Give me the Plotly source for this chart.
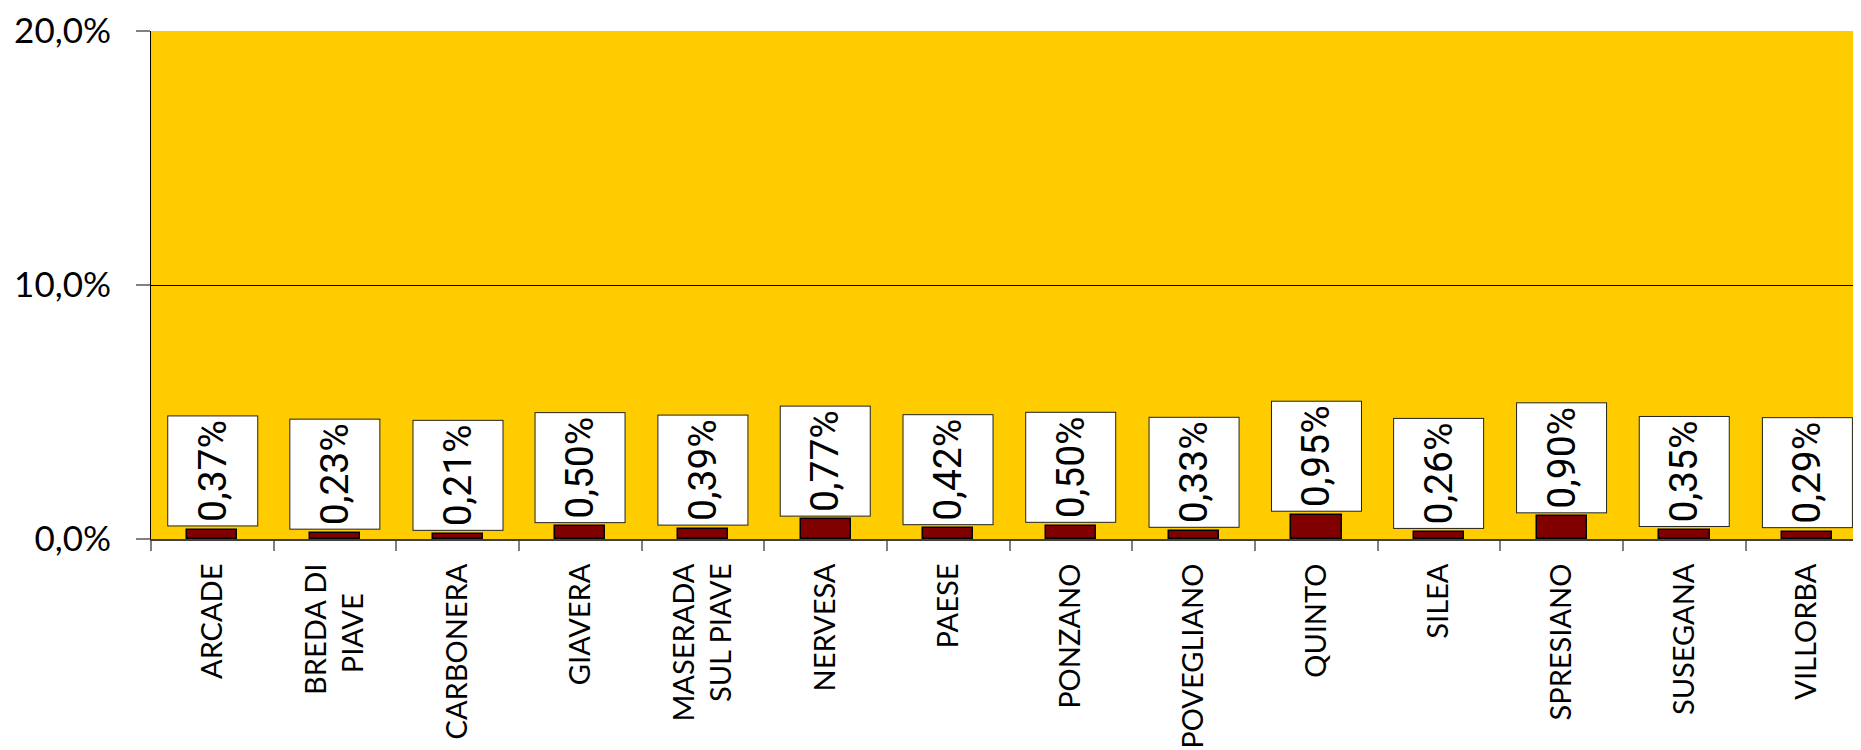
import plotly.graph_objects as go

categories = ["ARCADE", "BREDA DI PIAVE", "CARBONERA", "GIAVERA", "MASERADA SUL PIAVE",
              "NERVESA", "PAESE", "PONZANO", "POVEGLIANO", "QUINTO", "SILEA",
              "SPRESIANO", "SUSEGANA", "VILLORBA"]
tick_labels = ["ARCADE", "BREDA DI<br>PIAVE\u00a0\u00a0\u00a0\u00a0", "CARBONERA", "GIAVERA",
               "MASERADA<br>SUL PIAVE", "NERVESA", "PAESE", "PONZANO", "POVEGLIANO",
               "QUINTO", "SILEA", "SPRESIANO", "SUSEGANA", "VILLORBA"]
values = [0.37, 0.23, 0.21, 0.50, 0.39, 0.77, 0.42, 0.50, 0.33, 0.95, 0.26, 0.90, 0.35, 0.29]
y_ticks = [0, 10, 20]
y_tick_labels = ["0,0%", "10,0%", "20,0%"]

label_font = "Roboto, Liberation Sans, sans-serif"
tick_font = "Lato, Liberation Sans, sans-serif"

fig = go.Figure()
fig.add_trace(go.Bar(
    x=categories, y=values,
    width=0.41,
    marker=dict(color="#800000", line=dict(color="black", width=1.5)),
    hoverinfo="skip",
))

for c, v in zip(categories, values):
    fig.add_annotation(
        x=c, y=v, xref="x", yref="y",
        text=f"{v:.2f}".replace(".", ",") + "%",
        textangle=-90,
        showarrow=False,
        xanchor="center", yanchor="bottom",
        yshift=3,
        width=109, height=89,
        align="center", valign="middle",
        bgcolor="white", bordercolor="#222222", borderwidth=1, borderpad=0,
        font=dict(family=label_font, size=39, color="black"),
    )

fig.update_layout(
    width=1853, height=742,
    margin=dict(l=143, r=0, t=23, b=211, autoexpand=False),
    paper_bgcolor="white",
    plot_bgcolor="#FFCC00",
    showlegend=False,
    bargap=0,
)
fig.update_xaxes(
    type="category",
    automargin=False,
    range=[-0.5, 13.44],
    tickmode="array", tickvals=categories, ticktext=tick_labels,
    tickangle=-90,
    ticks="outside", ticklen=10, tickcolor="#808080", tickwidth=1.5,
    tickson="boundaries",
    ticklabelstandoff=11,
    showline=True, linecolor="#404040", linewidth=2,
    showgrid=False,
    tickfont=dict(family=tick_font, size=29, color="black"),
)
fig.update_yaxes(
    automargin=False,
    range=[0, 20],
    tickmode="array", tickvals=y_ticks, ticktext=y_tick_labels,
    ticks="outside", ticklen=14, tickcolor="#808080", tickwidth=1.5,
    ticklabelstandoff=18,
    showline=True, linecolor="black", linewidth=1,
    showgrid=True, gridcolor="black", gridwidth=1,
    zeroline=False,
    tickfont=dict(family=tick_font, size=35, color="black"),
)

fig.write_html("out.html")
